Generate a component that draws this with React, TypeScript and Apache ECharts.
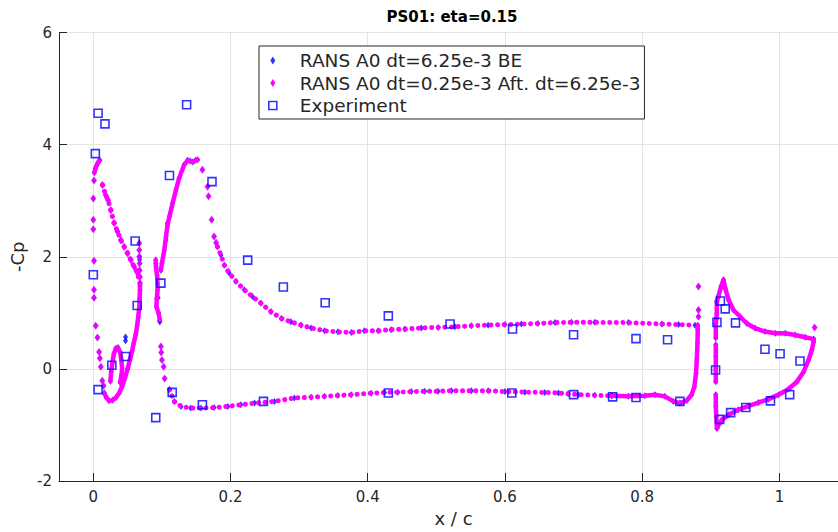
import React, { useEffect, useRef } from "react";
import * as echarts from "echarts";

const titleText = "PS01: eta=0.15";
const xAxisName = "x / c";
const yAxisName = "-Cp";
const xTicks = [0, 0.2, 0.4, 0.6, 0.8, 1];
const nameBE = "RANS A0 dt=6.25e-3 BE";
const nameAft = "RANS A0 dt=0.25e-3 Aft. dt=6.25e-3";
const nameExp = "Experiment";

// Experiment (x/c, -Cp)
const experiment = [
  [0.0, 1.68], [0.007, 4.56], [0.017, 4.37], [0.003, 3.84], [0.007, -0.37], [0.027, 0.065],
  [0.047, 0.22], [0.061, 2.28], [0.064, 1.13], [0.0985, 1.53], [0.091, -0.87], [0.111, 3.45],
  [0.115, -0.42], [0.136, 4.71], [0.159, -0.64], [0.173, 3.34], [0.225, 1.94], [0.248, -0.58],
  [0.277, 1.46], [0.338, 1.18], [0.43, 0.945], [0.43, -0.43], [0.52, 0.8], [0.611, 0.71],
  [0.61, -0.43], [0.7, 0.61], [0.7, -0.46], [0.757, -0.5], [0.791, 0.54], [0.791, -0.51],
  [0.837, 0.52], [0.855, -0.58], [0.907, -0.02], [0.909, 0.83], [0.914, 1.21], [0.921, 1.07],
  [0.936, 0.82], [0.913, -0.9], [0.929, -0.78], [0.951, -0.69], [0.979, 0.35], [0.987, -0.57],
  [1.001, 0.27], [1.015, -0.46], [1.03, 0.14],
];

// CFD (RANS A0 dt=0.25e-3 Aft. dt=6.25e-3), traced surface segments
const slatNose = [[0.0015, 3.5], [0.003, 3.57], [0.0045, 3.62], [0.006, 3.66], [0.008, 3.7], [0.0095, 3.72]];
const slatLE = [
  [0.001, 3.36], [0.0, 3.04], [0.0, 2.66], [0.0, 2.49], [0.001, 1.93], [0.001, 1.41], [0.001, 1.27],
  [0.0035, 0.77], [0.006, 0.56], [0.0085, 0.3], [0.0095, 0.19], [0.011, 0.04], [0.013, -0.21], [0.015, -0.3],
];
const slatUpper = [
  [0.0134, 3.28], [0.018, 3.1], [0.0216, 3.01], [0.0255, 2.83], [0.0304, 2.6], [0.0353, 2.45], [0.04, 2.3],
  [0.045, 2.18], [0.05, 2.06], [0.0547, 1.94], [0.0596, 1.82], [0.0645, 1.71], [0.068, 1.53],
];
const slatTE = [[0.067, 2.24], [0.067, 2.12], [0.067, 2.0], [0.0675, 1.88], [0.0675, 1.76], [0.068, 1.64]];
const slatLower = [
  [0.068, 1.5], [0.068, 1.4], [0.0675, 1.25], [0.067, 1.1], [0.0655, 0.93], [0.064, 0.78], [0.062, 0.62],
  [0.059, 0.46], [0.0565, 0.32], [0.0535, 0.17], [0.05, 0.0], [0.046, -0.17], [0.042, -0.31], [0.0377, -0.43],
  [0.033, -0.51], [0.028, -0.56], [0.023, -0.57], [0.019, -0.51], [0.016, -0.43],
];
const slatCove = [
  [0.025, -0.22], [0.026, -0.05], [0.028, 0.12], [0.03, 0.27], [0.033, 0.37], [0.036, 0.38], [0.039, 0.3],
  [0.041, 0.15], [0.042, 0.0], [0.041, -0.12], [0.039, -0.24],
];
const mainLEUpper = [
  [0.091, 1.94], [0.0915, 1.8], [0.093, 1.66], [0.0935, 1.52], [0.0937, 1.41], [0.0925, 1.25], [0.092, 1.11],
  [0.095, 1.0], [0.097, 0.87],
];
const mainLELower = [[0.0985, 0.4], [0.099, 0.29], [0.1, 0.16], [0.1025, 0.04], [0.104, -0.17]];
const mainUpperRise = [
  [0.0985, 1.76], [0.1, 1.88], [0.1035, 2.12], [0.106, 2.36], [0.108, 2.55], [0.111, 2.72], [0.1155, 2.95],
  [0.1205, 3.19], [0.125, 3.4], [0.1325, 3.64], [0.1375, 3.72], [0.141, 3.71], [0.145, 3.69], [0.149, 3.72],
  [0.152, 3.73],
];
const mainUpperDescent = [[0.159, 3.55], [0.1665, 3.25], [0.168, 3.08], [0.1725, 2.66], [0.176, 2.36], [0.179, 2.25]];
const mainUpperAft = [
  [0.181, 2.18], [0.186, 2.03], [0.191, 1.85], [0.198, 1.71], [0.208, 1.56], [0.22, 1.41], [0.232, 1.29],
  [0.2445, 1.17], [0.259, 1.02], [0.274, 0.9], [0.288, 0.84], [0.303, 0.78], [0.3175, 0.73], [0.337, 0.68],
  [0.3565, 0.66], [0.376, 0.65], [0.395, 0.68], [0.415, 0.68], [0.434, 0.7], [0.454, 0.71], [0.478, 0.73],
  [0.5025, 0.74], [0.527, 0.75], [0.551, 0.77], [0.5755, 0.78], [0.6, 0.79], [0.624, 0.8], [0.648, 0.81],
  [0.673, 0.825], [0.697, 0.83], [0.731, 0.83], [0.78, 0.825], [0.8285, 0.8], [0.853, 0.79], [0.877, 0.78],
];
const mainTE = [[0.882, 1.47], [0.882, 1.05], [0.882, 0.93]];
const mainLowerFore = [
  [0.111, -0.37], [0.118, -0.58], [0.128, -0.67], [0.142, -0.7], [0.157, -0.7], [0.176, -0.69], [0.196, -0.67],
  [0.215, -0.64], [0.235, -0.61], [0.264, -0.58], [0.293, -0.52], [0.3175, -0.505], [0.337, -0.49],
  [0.3565, -0.475], [0.376, -0.46], [0.405, -0.435], [0.4245, -0.42], [0.444, -0.415], [0.4635, -0.405],
  [0.483, -0.4], [0.5025, -0.4], [0.522, -0.39], [0.551, -0.39], [0.5755, -0.39], [0.6, -0.405],
  [0.629, -0.415], [0.658, -0.42], [0.678, -0.43], [0.692, -0.445], [0.707, -0.46], [0.731, -0.47], [0.7555, -0.48],
];
const mainLowerAft = [
  [0.7555, -0.48], [0.78, -0.49], [0.804, -0.48], [0.8187, -0.46], [0.833, -0.49], [0.8455, -0.58],
  [0.855, -0.61], [0.865, -0.565], [0.872, -0.46], [0.876, -0.32], [0.8785, -0.08], [0.8796, 0.16],
  [0.8806, 0.46], [0.881, 0.695], [0.881, 0.78],
];
const flapLE1 = [[0.9088, 1.2], [0.9088, 0.99], [0.9073, 0.81], [0.9073, 0.55]];
const flapLE2 = [[0.9073, 0.43], [0.9073, 0.22], [0.9073, -0.02], [0.9073, -0.23]];
const flapLE3 = [[0.9073, -0.46], [0.9073, -0.67], [0.908, -0.85], [0.909, -1.06]];
const flapUpper = [
  [0.9088, 1.2], [0.911, 1.29], [0.915, 1.47], [0.9185, 1.59], [0.921, 1.44], [0.926, 1.23], [0.933, 1.05],
  [0.943, 0.93], [0.9526, 0.81], [0.9647, 0.725], [0.979, 0.665], [0.994, 0.635], [1.0085, 0.635],
  [1.023, 0.605], [1.0377, 0.565], [1.05, 0.53],
];
const flapTE = [[1.0514, 0.74]];
const flapLower = [
  [0.909, -1.06], [0.91, -1.03], [0.916, -0.91], [0.926, -0.82], [0.94, -0.73], [0.955, -0.66],
  [0.9696, -0.6], [0.984, -0.54], [0.9988, -0.46], [1.0134, -0.36], [1.0255, -0.23], [1.0353, -0.05],
  [1.0426, 0.16], [1.0474, 0.34], [1.05, 0.49], [1.05, 0.53],
];

// RANS A0 dt=6.25e-3 BE: points where it departs from the other run
const beDeparture = [
  [0.047, 0.57], [0.047, 0.5], [0.091, 1.88], [0.0966, 0.86], [0.097, 0.84], [0.108, 2.6], [0.106, 2.3],
  [0.0675, 2.0], [0.0675, 1.95], [0.0945, 1.27],
];

const MAG = "#ff00ff";
const BLUE = "#0000ff";
const TXT = "#262626";
const FONT = "DejaVu Sans";
const diamondIcon = "path://M2.5,0L5,4L2.5,8L0,4Z";
const squareIcon = "path://M0,0L8,0L8,8L0,8Z";

export default function App() {
  const ref = useRef<HTMLDivElement>(null);
  useEffect(() => {
    const chart = echarts.init(ref.current!, null, { renderer: "svg" });

    const solid = (data: number[][]) => ({
      type: "line", name: nameAft, data, showSymbol: false, symbol: "none", silent: true, z: 3,
      itemStyle: { color: MAG },
      lineStyle: { color: MAG, width: 4.5, cap: "round", join: "round" },
    });
    const dotted = (data: number[][]) => ({
      type: "line", name: nameAft, data, showSymbol: false, symbol: "none", silent: true, z: 3,
      itemStyle: { color: MAG },
      lineStyle: { color: MAG, width: 5, type: [0.1, 6.5], cap: "round" },
    });
    const dots = (data: number[][]) => ({
      type: "scatter", name: nameAft, data, symbol: "diamond", symbolSize: [6, 8], silent: true, z: 3,
      itemStyle: { color: MAG },
    });

    const beData = [
      ...slatNose, ...slatLE, ...slatUpper, ...slatTE, ...slatLower, ...slatCove, ...mainLEUpper,
      ...mainLELower, ...mainUpperRise, ...mainUpperDescent, ...mainUpperAft, ...mainTE, ...mainLowerFore,
      ...mainLowerAft, ...flapLE1, ...flapLE2, ...flapLE3, ...flapUpper, ...flapTE, ...flapLower, ...beDeparture,
    ];

    chart.setOption({
      animation: false,
      backgroundColor: "#ffffff",
      textStyle: { fontFamily: FONT },
      grid: { left: 58, right: 0, top: 32.5, bottom: 50 },
      graphic: [
        {
          type: "text", x: 452, y: 9,
          style: { text: titleText, textAlign: "center", textVerticalAlign: "top", fontFamily: FONT, fontSize: 15, fontWeight: "bold", fill: "#000" },
        },
      ],
      legend: {
        orient: "vertical", left: 259, top: 46, padding: [5, 4, 4, 9], itemGap: 3.5, itemWidth: 44, itemHeight: 8,
        borderColor: TXT, borderWidth: 1, backgroundColor: "#fff", selectedMode: false,
        textStyle: { fontFamily: FONT, fontSize: 18.5, color: TXT },
        data: [
          { name: nameBE, icon: diamondIcon, itemStyle: { color: BLUE } },
          { name: nameAft, icon: diamondIcon, itemStyle: { color: MAG } },
          { name: nameExp, icon: squareIcon, itemStyle: { color: "rgba(0,0,0,0)", borderColor: BLUE, borderWidth: 1.6 } },
        ],
      },
      xAxis: {
        type: "value", min: -0.05, max: 1.1,
        name: xAxisName, nameLocation: "middle", nameGap: 28,
        nameTextStyle: { fontFamily: FONT, fontSize: 18, color: TXT },
        axisLine: { onZero: false, lineStyle: { color: TXT, width: 1 } },
        axisTick: { inside: true, length: 8, customValues: xTicks, lineStyle: { color: TXT } },
        axisLabel: { customValues: xTicks, fontFamily: FONT, fontSize: 15, color: TXT, margin: 8, formatter: (v: number) => String(v) },
        splitLine: { show: true, lineStyle: { color: "#e3e3e3", width: 1 } },
      },
      yAxis: {
        type: "value", min: -2, max: 6, interval: 2,
        name: yAxisName, nameLocation: "middle", nameGap: 33, nameRotate: 90,
        nameTextStyle: { fontFamily: FONT, fontSize: 18, color: TXT },
        axisLine: { show: true, onZero: false, lineStyle: { color: TXT, width: 1 } },
        axisTick: { show: true, inside: true, length: 8, lineStyle: { color: TXT } },
        axisLabel: { fontFamily: FONT, fontSize: 15, color: TXT, margin: 7 },
        splitLine: { show: true, lineStyle: { color: "#e3e3e3", width: 1 } },
      },
      series: [
        {
          type: "scatter", name: nameBE, data: beData, symbol: "diamond", symbolSize: [5, 7], silent: true, z: 2,
          itemStyle: { color: BLUE },
        },
        solid(slatNose), dots(slatLE), dotted(slatUpper), dots(slatUpper), dots(slatTE), solid(slatLower),
        solid(slatCove), solid(mainLEUpper), dots(mainLELower), solid(mainUpperRise), dots(mainUpperDescent),
        dotted(mainUpperAft), dots(mainTE), dotted(mainLowerFore), solid(mainLowerAft), solid(flapLE1),
        solid(flapLE2), solid(flapLE3), solid(flapUpper), dots(flapTE), solid(flapLower),
        {
          type: "scatter", name: nameExp, data: experiment, symbol: "rect", symbolSize: 8, silent: true, z: 4,
          itemStyle: { color: "rgba(0,0,0,0)", borderColor: BLUE, borderWidth: 1.6 },
        },
      ],
    });
    return () => chart.dispose();
  }, []);
  return (
    <div style={{ position: "absolute", left: 0, top: 0, width: 838, height: 532, overflow: "hidden" }}>
      <div ref={ref} style={{ width: 848, height: 532 }} />
    </div>
  );
}
